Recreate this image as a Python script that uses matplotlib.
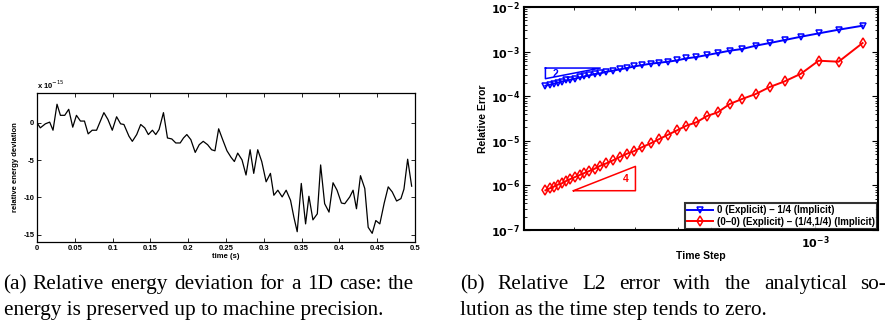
import numpy as np
import matplotlib
matplotlib.use("Agg")
import matplotlib.pyplot as plt
from matplotlib.ticker import FuncFormatter, NullFormatter, LogLocator, FixedLocator

plt.rcParams['font.family'] = ['Liberation Sans', 'DejaVu Sans']

# (a) relative energy deviation, values in units of 1e-15
time_s = [0, 0.0044, 0.0111, 0.0168, 0.0212, 0.0265, 0.0310, 0.0367, 0.0420, 0.0473,
          0.0522, 0.0575, 0.0628, 0.0677, 0.0730, 0.0788, 0.0885, 0.0938, 0.0996, 0.1053,
          0.1106, 0.1150, 0.1217, 0.1261, 0.1319, 0.1372, 0.1425, 0.1473, 0.1527, 0.1571,
          0.1615, 0.1673, 0.1726, 0.1783, 0.1836, 0.1894, 0.1938, 0.1982, 0.2035, 0.2093,
          0.2146, 0.2199, 0.2257, 0.2310, 0.2354, 0.2403, 0.2456, 0.2513, 0.2566, 0.2611,
          0.2655, 0.2712, 0.2765, 0.2819, 0.2867, 0.2920, 0.2973, 0.3031, 0.3088, 0.3133,
          0.3186, 0.3243, 0.3296, 0.3354, 0.3398, 0.3442, 0.3496, 0.3553, 0.3597, 0.3650,
          0.3708, 0.3752, 0.3805, 0.3863, 0.3916, 0.3969, 0.4027, 0.4071, 0.4137, 0.4181,
          0.4226, 0.4279, 0.4336, 0.4381, 0.4434, 0.4482, 0.4535, 0.4593, 0.4646, 0.4699,
          0.4757, 0.4814, 0.4854, 0.4903, 0.4956]
energy_dev = [0, -0.68, -0.14, 0.09, -1.0, 2.49, 1.0, 1.0, 1.81, -0.59,
              1.0, 0.23, 0.23, -1.49, -1.0, -1.0, 1.36, 0.45, -1.0, 0.81,
              -0.14, -0.23, -1.81, -2.49, -1.58, -0.23, -0.68, -1.58, -1.0, -1.58,
              -0.90, 1.36, -2.04, -2.17, -2.71, -2.71, -2.04, -1.58, -2.26, -3.98,
              -2.94, -2.49, -2.94, -3.62, -3.76, -0.81, -2.26, -3.76, -4.62, -5.20,
              -4.07, -4.98, -7.01, -3.62, -6.79, -3.62, -5.20, -7.92, -6.79, -9.73,
              -9.05, -9.95, -9.05, -10.41, -12.67, -14.62, -8.14, -13.57, -9.86, -13.03,
              -12.22, -5.66, -10.86, -11.99, -8.05, -9.05, -10.77, -10.86, -9.95, -9.05,
              -11.54, -7.10, -8.82, -14.03, -14.84, -13.12, -13.57, -10.77, -8.60, -9.28,
              -10.50, -10.18, -8.91, -4.89, -8.51]
time_ticks = [0, 0.05, 0.1, 0.15, 0.2, 0.25, 0.3, 0.35, 0.4, 0.45, 0.5]
dev_ticks = [-15, -10, -5, 0]

# (b) convergence
time_step = [1.650e-4, 1.698e-4, 1.744e-4, 1.791e-4, 1.840e-4, 1.894e-4, 1.950e-4, 2.011e-4,
             2.074e-4, 2.140e-4, 2.212e-4, 2.293e-4, 2.381e-4, 2.478e-4, 2.591e-4, 2.709e-4,
             2.845e-4, 2.988e-4, 3.152e-4, 3.332e-4, 3.530e-4, 3.741e-4, 3.972e-4, 4.227e-4,
             4.519e-4, 4.853e-4, 5.210e-4, 5.645e-4, 6.129e-4, 6.716e-4, 7.374e-4, 8.149e-4,
             9.090e-4, 1.0226e-3, 1.1683e-3, 1.3716e-3]
err_explicit = [1.719e-4, 1.811e-4, 1.907e-4, 2.008e-4, 2.114e-4, 2.265e-4, 2.344e-4, 2.468e-4,
                2.644e-4, 2.784e-4, 2.931e-4, 3.142e-4, 3.250e-4, 3.542e-4, 3.729e-4, 3.996e-4,
                4.281e-4, 4.664e-4, 4.998e-4, 5.354e-4, 5.637e-4, 5.935e-4, 6.359e-4, 7.050e-4,
                7.554e-4, 8.378e-4, 9.288e-4, 1.047e-3, 1.142e-3, 1.356e-3, 1.557e-3, 1.817e-3,
                2.158e-3, 2.563e-3, 3.097e-3, 3.807e-3]
err_implicit = [7.74e-7, 8.58e-7, 9.35e-7, 1.037e-6, 1.110e-6, 1.253e-6, 1.390e-6, 1.540e-6,
                1.708e-6, 1.894e-6, 2.100e-6, 2.368e-6, 2.765e-6, 3.119e-6, 3.640e-6, 4.325e-6,
                5.139e-6, 5.897e-6, 7.250e-6, 8.758e-6, 1.096e-5, 1.370e-5, 1.713e-5, 2.181e-5,
                2.591e-5, 3.592e-5, 4.339e-5, 6.675e-5, 8.641e-5, 1.118e-4, 1.605e-4, 2.150e-4,
                3.195e-4, 6.252e-4, 5.935e-4, 1.557e-3]
legend_labels = ["0 (Explicit) \u2013 1/4 (Implicit)",
                 "(0\u20130) (Explicit) \u2013 (1/4,1/4) (Implicit)"]

fig = plt.figure(figsize=(8.89, 3.26), dpi=100)

# ---- left panel
ax1 = fig.add_axes([0.0416, 0.2577, 0.4252, 0.4571])
ax1.plot(time_s, energy_dev, color='black', lw=0.9)
ax1.set_xlim(0, 0.5)
ax1.set_ylim(-16, 4)
ax1.set_xticks(time_ticks)
ax1.set_yticks(dev_ticks)
ax1.xaxis.set_major_formatter(FuncFormatter(lambda v, p: '%g' % v))
ax1.yaxis.set_major_formatter(FuncFormatter(lambda v, p: '%g' % v))
ax1.tick_params(direction='in', top=True, right=True, length=3, width=0.6,
                labelsize=5.5, pad=2)
for lab in ax1.get_xticklabels() + ax1.get_yticklabels():
    lab.set_fontweight('bold')
for s in ax1.spines.values():
    s.set_linewidth(0.9)
ax1.set_xlabel('time (s)', fontsize=5.5, fontweight='bold', labelpad=1)
ax1.set_ylabel('relative energy deviation', fontsize=5.5, fontweight='bold', labelpad=3)
ax1.text(0, 1.015, r'x 10$^{-15}$', transform=ax1.transAxes, fontsize=5.5,
         fontweight='bold', ha='left', va='bottom')

# ---- right panel
ax2 = fig.add_axes([0.5894, 0.2945, 0.3982, 0.6840])
ax2.set_xscale('log')
ax2.set_yscale('log')
l1, = ax2.plot(time_step, err_explicit, color='blue', marker='v', ms=5, mfc='none',
               mew=1.1, lw=1.4)
l2, = ax2.plot(time_step, err_implicit, color='red', marker='d', ms=5, mfc='none',
               mew=1.1, lw=1.4)
ax2.set_xlim(1.43e-4, 1.52e-3)
ax2.set_ylim(1e-7, 1e-2)

# slope triangles
ax2.plot([1.65e-4, 2.38e-4, 1.65e-4, 1.65e-4], [4.28e-4, 4.28e-4, 2.47e-4, 4.28e-4],
         color='blue', lw=1.1)
ax2.text(1.76e-4, 3.1e-4, '2', color='blue', fontsize=7.5, fontweight='bold',
         ha='center', va='center')
ax2.plot([1.99e-4, 3.01e-4, 3.01e-4, 1.99e-4], [7.6e-7, 7.6e-7, 2.67e-6, 7.6e-7],
         color='red', lw=1.1)
ax2.text(2.83e-4, 1.4e-6, '4', color='red', fontsize=7.5, fontweight='bold',
         ha='center', va='center')

ax2.xaxis.set_major_locator(FixedLocator([1e-3]))
ax2.xaxis.set_minor_locator(LogLocator(base=10, subs=np.arange(2, 10)))
ax2.xaxis.set_minor_formatter(NullFormatter())
ax2.yaxis.set_major_locator(LogLocator(base=10, numticks=10))
ax2.yaxis.set_minor_locator(LogLocator(base=10, subs=np.arange(2, 10), numticks=10))
ax2.yaxis.set_minor_formatter(NullFormatter())
fmt = FuncFormatter(lambda v, p: r'$\mathbf{10^{%d}}$' % int(round(np.log10(v))))
ax2.xaxis.set_major_formatter(fmt)
ax2.yaxis.set_major_formatter(fmt)
ax2.tick_params(which='both', direction='in', top=True, right=True, labelsize=8, pad=3)
ax2.tick_params(which='major', length=4, width=0.8)
ax2.tick_params(which='minor', length=2, width=0.6)
for s in ax2.spines.values():
    s.set_linewidth(1.5)
ax2.set_xlabel('Time Step', fontsize=7.5, fontweight='bold', labelpad=0)
ax2.set_ylabel('Relative Error', fontsize=7.5, fontweight='bold', labelpad=2)

leg = ax2.legend([l1, l2], legend_labels, loc='lower right',
                 prop={'weight': 'bold', 'size': 7}, frameon=True, fancybox=False,
                 borderpad=0.25, handlelength=2.6, labelspacing=0.15,
                 borderaxespad=0.1, handletextpad=0.4)
leg.get_frame().set_edgecolor('black')
leg.get_frame().set_linewidth(1.5)

# captions (first lines justified like LaTeX)
cap = dict(family=['Liberation Serif', 'DejaVu Serif'], fontsize=15.3, va='center', ha='left')
renderer = fig.canvas.get_renderer()
W = 889.0


def justified(line, x0, x1, y):
    words = line.split(' ')
    items = [fig.text(0, y, w, **cap) for w in words]
    widths = [t.get_window_extent(renderer).width for t in items]
    gap = (x1 - x0 - sum(widths)) / (len(words) - 1)
    x = x0
    for t, w in zip(items, widths):
        t.set_x(x / W)
        x += w + gap


justified('(a) Relative energy deviation for a 1D case: the', 3, 414, 0.127)
fig.text(0.004, 0.048, 'energy is preserved up to machine precision.', **cap)
justified('(b) Relative L2 error with the analytical so-', 460, 886, 0.127)
fig.text(0.517, 0.048, 'lution as the time step tends to zero.', **cap)

fig.savefig('out.png', dpi=100)
